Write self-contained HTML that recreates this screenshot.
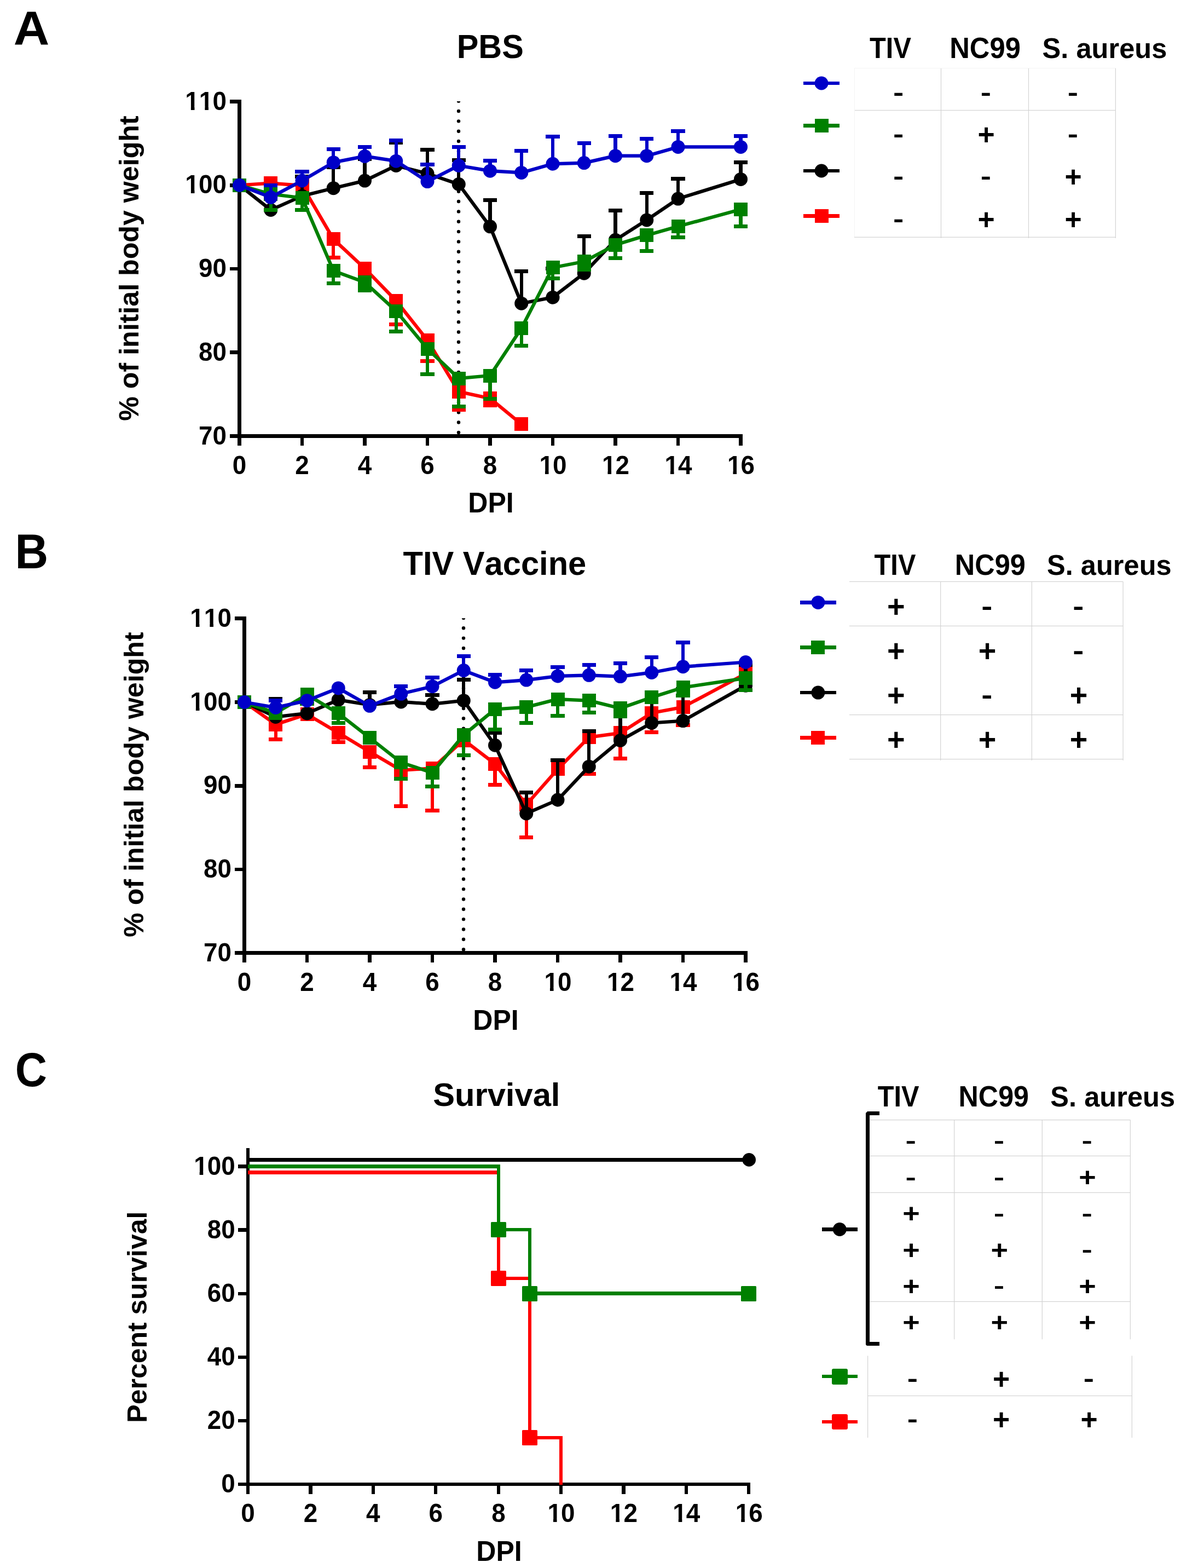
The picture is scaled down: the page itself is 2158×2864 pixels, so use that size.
<!DOCTYPE html>
<html lang="en">
<head>
<meta charset="utf-8">
<title>Body weight and survival</title>
<style>
html,body{margin:0;padding:0;background:#fff;}
body{width:2158px;height:2864px;overflow:hidden;}
svg{display:block;}
text{font-family:"Liberation Sans",Arial,Helvetica,sans-serif;font-kerning:none;font-variant-ligatures:none;}
</style>
</head>
<body>
<svg width="2158" height="2864" viewBox="0 0 2158 2864" font-family="'Liberation Sans', Arial, sans-serif" fill="#000">
<rect width="2158" height="2864" fill="#fff"/>
<text transform="translate(24.8 80.9) scale(1.089 1.055)" font-size="83.33" text-anchor="start" font-weight="bold">A</text>
<text transform="translate(27.5 1037.9) scale(1.008 1.064)" font-size="83.33" text-anchor="start" font-weight="bold">B</text>
<text transform="translate(27.7 1984.1) scale(0.967 1.0525)" font-size="83.33" text-anchor="start" font-weight="bold">C</text>
<clipPath id="clip796"><rect x="818.25" y="185" width="40" height="611"/></clipPath>
<g clip-path="url(#clip796)"><circle cx="838" cy="184.66" r="3.2"/><circle cx="838" cy="203" r="3.2"/><circle cx="838" cy="221.34" r="3.2"/><circle cx="838" cy="239.68" r="3.2"/><circle cx="838" cy="258.02" r="3.2"/><circle cx="838" cy="276.36" r="3.2"/><circle cx="838" cy="294.7" r="3.2"/><circle cx="838" cy="313.04" r="3.2"/><circle cx="838" cy="331.38" r="3.2"/><circle cx="838" cy="349.72" r="3.2"/><circle cx="838" cy="368.06" r="3.2"/><circle cx="838" cy="386.4" r="3.2"/><circle cx="838" cy="404.74" r="3.2"/><circle cx="838" cy="423.08" r="3.2"/><circle cx="838" cy="441.42" r="3.2"/><circle cx="838" cy="459.76" r="3.2"/><circle cx="838" cy="478.1" r="3.2"/><circle cx="838" cy="496.44" r="3.2"/><circle cx="838" cy="514.78" r="3.2"/><circle cx="838" cy="533.12" r="3.2"/><circle cx="838" cy="551.46" r="3.2"/><circle cx="838" cy="569.8" r="3.2"/><circle cx="838" cy="588.14" r="3.2"/><circle cx="838" cy="606.48" r="3.2"/><circle cx="838" cy="624.82" r="3.2"/><circle cx="838" cy="643.16" r="3.2"/><circle cx="838" cy="661.5" r="3.2"/><circle cx="838" cy="679.84" r="3.2"/><circle cx="838" cy="698.18" r="3.2"/><circle cx="838" cy="716.52" r="3.2"/><circle cx="838" cy="734.86" r="3.2"/><circle cx="838" cy="753.2" r="3.2"/><circle cx="838" cy="771.54" r="3.2"/><circle cx="838" cy="789.88" r="3.2"/></g>
<rect x="434" y="182" width="7" height="618" fill="#000000" shape-rendering="crispEdges"/>
<rect x="434" y="793" width="923" height="7" fill="#000000" shape-rendering="crispEdges"/>
<rect x="420" y="793" width="14" height="7" fill="#000000"/>
<text transform="translate(0 811.7) scale(1 1.04)" x="362.92 388.41" font-size="45.83" font-weight="bold">70</text>
<rect x="420" y="640" width="14" height="7" fill="#000000"/>
<text transform="translate(0 658.95) scale(1 1.04)" x="362.92 388.41" font-size="45.83" font-weight="bold">80</text>
<rect x="420" y="488" width="14" height="6" fill="#000000"/>
<text transform="translate(0 506.2) scale(1 1.04)" x="362.92 388.41" font-size="45.83" font-weight="bold">90</text>
<rect x="420" y="335" width="14" height="7" fill="#000000"/>
<clipPath id="ft1"><path d="M0 0H2158V2864H0ZM339.72 347.99H348.88V355.45H339.72ZM355.47 347.99H364.05V355.45H355.47Z" clip-rule="evenodd"/></clipPath>
<g clip-path="url(#ft1)"><text transform="translate(0 353.45) scale(1 1.04)" x="338.33 362.92 388.41" font-size="45.83" font-weight="bold">100</text></g>
<rect x="420" y="182" width="14" height="7" fill="#000000"/>
<clipPath id="ft2"><path d="M0 0H2158V2864H0ZM339.72 195.24H348.88V202.7H339.72ZM355.47 195.24H364.05V202.7H355.47ZM365.21 195.24H374.37V202.7H365.21ZM380.96 195.24H389.54V202.7H380.96Z" clip-rule="evenodd"/></clipPath>
<g clip-path="url(#ft2)"><text transform="translate(0 200.7) scale(1 1.04)" x="338.33 363.82 388.41" font-size="45.83" font-weight="bold">110</text></g>
<rect x="434" y="800" width="7" height="14" fill="#000000"/>
<text transform="translate(0 865.5) scale(1 1.04)" x="424.76" font-size="45.83" font-weight="bold">0</text>
<rect x="549" y="800" width="6" height="14" fill="#000000"/>
<text transform="translate(0 865.5) scale(1 1.04)" x="539.26" font-size="45.83" font-weight="bold">2</text>
<rect x="663" y="800" width="7" height="14" fill="#000000"/>
<text transform="translate(0 865.5) scale(1 1.04)" x="653.76" font-size="45.83" font-weight="bold">4</text>
<rect x="778" y="800" width="6" height="14" fill="#000000"/>
<text transform="translate(0 865.5) scale(1 1.04)" x="768.26" font-size="45.83" font-weight="bold">6</text>
<rect x="892" y="800" width="7" height="14" fill="#000000"/>
<text transform="translate(0 865.5) scale(1 1.04)" x="882.76" font-size="45.83" font-weight="bold">8</text>
<rect x="1007" y="800" width="6" height="14" fill="#000000"/>
<clipPath id="ft3"><path d="M0 0H2158V2864H0ZM986.8 860.04H995.96V867.5H986.8ZM1002.55 860.04H1011.12V867.5H1002.55Z" clip-rule="evenodd"/></clipPath>
<g clip-path="url(#ft3)"><text transform="translate(0 865.5) scale(1 1.04)" x="985.41 1010" font-size="45.83" font-weight="bold">10</text></g>
<rect x="1121" y="800" width="7" height="14" fill="#000000"/>
<clipPath id="ft4"><path d="M0 0H2158V2864H0ZM1101.3 860.04H1110.46V867.5H1101.3ZM1117.05 860.04H1125.62V867.5H1117.05Z" clip-rule="evenodd"/></clipPath>
<g clip-path="url(#ft4)"><text transform="translate(0 865.5) scale(1 1.04)" x="1099.91 1124.5" font-size="45.83" font-weight="bold">12</text></g>
<rect x="1236" y="800" width="6" height="14" fill="#000000"/>
<clipPath id="ft5"><path d="M0 0H2158V2864H0ZM1215.8 860.04H1224.96V867.5H1215.8ZM1231.55 860.04H1240.12V867.5H1231.55Z" clip-rule="evenodd"/></clipPath>
<g clip-path="url(#ft5)"><text transform="translate(0 865.5) scale(1 1.04)" x="1214.41 1239" font-size="45.83" font-weight="bold">14</text></g>
<rect x="1350" y="800" width="7" height="14" fill="#000000"/>
<clipPath id="ft6"><path d="M0 0H2158V2864H0ZM1330.3 860.04H1339.46V867.5H1330.3ZM1346.05 860.04H1354.62V867.5H1346.05Z" clip-rule="evenodd"/></clipPath>
<g clip-path="url(#ft6)"><text transform="translate(0 865.5) scale(1 1.04)" x="1328.91 1353.5" font-size="45.83" font-weight="bold">16</text></g>
<rect x="606" y="437" width="6" height="33" fill="#ff0000"/>
<rect x="597" y="467" width="25" height="7" fill="#ff0000"/>
<rect x="721" y="549" width="6" height="44" fill="#ff0000"/>
<rect x="711" y="589" width="25" height="7" fill="#ff0000"/>
<rect x="778" y="621" width="6" height="38" fill="#ff0000"/>
<rect x="768" y="656" width="26" height="7" fill="#ff0000"/>
<rect x="835" y="715" width="6" height="34" fill="#ff0000"/>
<rect x="826" y="745" width="25" height="7" fill="#ff0000"/>
<rect x="892" y="728" width="7" height="12" fill="#ff0000"/>
<rect x="883" y="737" width="25" height="7" fill="#ff0000"/>
<polyline points="437.5,338.25 494.75,334.6 552,338.9 609.25,436.89 666.5,490.34 723.75,549.24 781,621.48 838.25,715.42 895.5,727.7 952.75,774.7" fill="none" stroke="#ff0000" stroke-width="6.25" stroke-linejoin="round" stroke-linecap="butt"/>
<rect x="425" y="326" width="25" height="25" fill="#ff0000"/>
<rect x="482" y="322" width="25" height="25" fill="#ff0000"/>
<rect x="540" y="326" width="25" height="25" fill="#ff0000"/>
<rect x="597" y="424" width="25" height="25" fill="#ff0000"/>
<rect x="654" y="478" width="25" height="25" fill="#ff0000"/>
<rect x="711" y="537" width="25" height="25" fill="#ff0000"/>
<rect x="769" y="609" width="25" height="25" fill="#ff0000"/>
<rect x="826" y="703" width="25" height="25" fill="#ff0000"/>
<rect x="883" y="715" width="25" height="25" fill="#ff0000"/>
<rect x="940" y="762" width="25" height="25" fill="#ff0000"/>
<rect x="549" y="322" width="6" height="36" fill="#000000"/>
<rect x="539" y="319" width="26" height="7" fill="#000000"/>
<rect x="606" y="305" width="6" height="39" fill="#000000"/>
<rect x="597" y="302" width="25" height="7" fill="#000000"/>
<rect x="663" y="291" width="7" height="39" fill="#000000"/>
<rect x="654" y="287" width="25" height="7" fill="#000000"/>
<rect x="721" y="261" width="6" height="41" fill="#000000"/>
<rect x="711" y="257" width="25" height="7" fill="#000000"/>
<rect x="778" y="273" width="6" height="44" fill="#000000"/>
<rect x="768" y="270" width="26" height="7" fill="#000000"/>
<rect x="835" y="293" width="6" height="43" fill="#000000"/>
<rect x="826" y="289" width="25" height="7" fill="#000000"/>
<rect x="892" y="366" width="7" height="48" fill="#000000"/>
<rect x="883" y="362" width="25" height="7" fill="#000000"/>
<rect x="950" y="495" width="6" height="59" fill="#000000"/>
<rect x="940" y="492" width="25" height="7" fill="#000000"/>
<rect x="1007" y="490" width="6" height="53" fill="#000000"/>
<rect x="997" y="487" width="26" height="7" fill="#000000"/>
<rect x="1064" y="431" width="6" height="68" fill="#000000"/>
<rect x="1055" y="428" width="25" height="7" fill="#000000"/>
<rect x="1121" y="384" width="7" height="54" fill="#000000"/>
<rect x="1112" y="381" width="25" height="7" fill="#000000"/>
<rect x="1179" y="353" width="6" height="49" fill="#000000"/>
<rect x="1169" y="349" width="25" height="7" fill="#000000"/>
<rect x="1236" y="327" width="6" height="36" fill="#000000"/>
<rect x="1226" y="323" width="26" height="7" fill="#000000"/>
<rect x="1350" y="297" width="7" height="30" fill="#000000"/>
<rect x="1341" y="293" width="25" height="7" fill="#000000"/>
<polyline points="437.5,338.25 494.75,383.44 552,358 609.25,343.7 666.5,330.1 723.75,302.46 781,317.1 838.25,336.47 895.5,413.8 952.75,554.2 1010,543.14 1067.25,499.2 1124.5,438.3 1181.75,401.91 1239,363.04 1353.5,327.4" fill="none" stroke="#000000" stroke-width="6.25" stroke-linejoin="round" stroke-linecap="butt"/>
<circle cx="437.5" cy="338.25" r="12.5" fill="#000000"/>
<circle cx="494.75" cy="383.44" r="12.5" fill="#000000"/>
<circle cx="552" cy="358" r="12.5" fill="#000000"/>
<circle cx="609.25" cy="343.7" r="12.5" fill="#000000"/>
<circle cx="666.5" cy="330.1" r="12.5" fill="#000000"/>
<circle cx="723.75" cy="302.46" r="12.5" fill="#000000"/>
<circle cx="781" cy="317.1" r="12.5" fill="#000000"/>
<circle cx="838.25" cy="336.47" r="12.5" fill="#000000"/>
<circle cx="895.5" cy="413.8" r="12.5" fill="#000000"/>
<circle cx="952.75" cy="554.2" r="12.5" fill="#000000"/>
<circle cx="1010" cy="543.14" r="12.5" fill="#000000"/>
<circle cx="1067.25" cy="499.2" r="12.5" fill="#000000"/>
<circle cx="1124.5" cy="438.3" r="12.5" fill="#000000"/>
<circle cx="1181.75" cy="401.91" r="12.5" fill="#000000"/>
<circle cx="1239" cy="363.04" r="12.5" fill="#000000"/>
<circle cx="1353.5" cy="327.4" r="12.5" fill="#000000"/>
<rect x="492" y="354" width="6" height="30" fill="#008000"/>
<rect x="482" y="380" width="25" height="7" fill="#008000"/>
<rect x="549" y="362" width="6" height="22" fill="#008000"/>
<rect x="539" y="380" width="26" height="7" fill="#008000"/>
<rect x="606" y="495" width="6" height="23" fill="#008000"/>
<rect x="597" y="514" width="25" height="7" fill="#008000"/>
<rect x="663" y="516" width="7" height="14" fill="#008000"/>
<rect x="654" y="527" width="25" height="7" fill="#008000"/>
<rect x="721" y="568" width="6" height="38" fill="#008000"/>
<rect x="711" y="602" width="25" height="7" fill="#008000"/>
<rect x="778" y="637" width="6" height="47" fill="#008000"/>
<rect x="768" y="680" width="26" height="7" fill="#008000"/>
<rect x="835" y="691" width="6" height="52" fill="#008000"/>
<rect x="826" y="739" width="25" height="7" fill="#008000"/>
<rect x="892" y="686" width="7" height="43" fill="#008000"/>
<rect x="883" y="725" width="25" height="7" fill="#008000"/>
<rect x="950" y="600" width="6" height="31" fill="#008000"/>
<rect x="940" y="628" width="25" height="7" fill="#008000"/>
<rect x="1007" y="489" width="6" height="19" fill="#008000"/>
<rect x="997" y="505" width="26" height="7" fill="#008000"/>
<rect x="1064" y="478" width="6" height="14" fill="#008000"/>
<rect x="1055" y="489" width="25" height="7" fill="#008000"/>
<rect x="1121" y="447" width="7" height="25" fill="#008000"/>
<rect x="1112" y="468" width="25" height="7" fill="#008000"/>
<rect x="1179" y="430" width="6" height="29" fill="#008000"/>
<rect x="1169" y="455" width="25" height="7" fill="#008000"/>
<rect x="1236" y="414" width="6" height="20" fill="#008000"/>
<rect x="1226" y="430" width="26" height="7" fill="#008000"/>
<rect x="1350" y="382" width="7" height="31" fill="#008000"/>
<rect x="1341" y="410" width="25" height="7" fill="#008000"/>
<polyline points="437.5,338.25 494.75,354.4 552,361.5 609.25,494.6 666.5,515.6 723.75,568.03 781,637.02 838.25,691.12 895.5,686 952.75,599.77 1010,488.72 1067.25,477.7 1124.5,447.3 1181.75,429.77 1239,413.57 1353.5,382.47" fill="none" stroke="#008000" stroke-width="6.25" stroke-linejoin="round" stroke-linecap="butt"/>
<rect x="425" y="326" width="25" height="25" fill="#008000"/>
<rect x="482" y="342" width="25" height="25" fill="#008000"/>
<rect x="540" y="349" width="25" height="25" fill="#008000"/>
<rect x="597" y="482" width="25" height="25" fill="#008000"/>
<rect x="654" y="503" width="25" height="25" fill="#008000"/>
<rect x="711" y="556" width="25" height="25" fill="#008000"/>
<rect x="769" y="625" width="25" height="25" fill="#008000"/>
<rect x="826" y="679" width="25" height="25" fill="#008000"/>
<rect x="883" y="674" width="25" height="25" fill="#008000"/>
<rect x="940" y="587" width="25" height="25" fill="#008000"/>
<rect x="998" y="476" width="25" height="25" fill="#008000"/>
<rect x="1055" y="465" width="25" height="25" fill="#008000"/>
<rect x="1112" y="435" width="25" height="25" fill="#008000"/>
<rect x="1169" y="417" width="25" height="25" fill="#008000"/>
<rect x="1227" y="401" width="25" height="25" fill="#008000"/>
<rect x="1341" y="370" width="25" height="25" fill="#008000"/>
<rect x="492" y="339" width="6" height="21" fill="#0000c8"/>
<rect x="482" y="335" width="25" height="7" fill="#0000c8"/>
<rect x="549" y="313" width="6" height="17" fill="#0000c8"/>
<rect x="539" y="310" width="26" height="7" fill="#0000c8"/>
<rect x="606" y="272" width="6" height="25" fill="#0000c8"/>
<rect x="597" y="269" width="25" height="7" fill="#0000c8"/>
<rect x="663" y="268" width="7" height="17" fill="#0000c8"/>
<rect x="654" y="265" width="25" height="7" fill="#0000c8"/>
<rect x="721" y="257" width="6" height="37" fill="#0000c8"/>
<rect x="711" y="253" width="25" height="7" fill="#0000c8"/>
<rect x="778" y="300" width="6" height="32" fill="#0000c8"/>
<rect x="768" y="297" width="26" height="7" fill="#0000c8"/>
<rect x="835" y="268" width="6" height="34" fill="#0000c8"/>
<rect x="826" y="265" width="25" height="7" fill="#0000c8"/>
<rect x="892" y="294" width="7" height="18" fill="#0000c8"/>
<rect x="883" y="290" width="25" height="7" fill="#0000c8"/>
<rect x="950" y="276" width="6" height="39" fill="#0000c8"/>
<rect x="940" y="272" width="25" height="7" fill="#0000c8"/>
<rect x="1007" y="250" width="6" height="49" fill="#0000c8"/>
<rect x="997" y="246" width="26" height="7" fill="#0000c8"/>
<rect x="1064" y="261" width="6" height="37" fill="#0000c8"/>
<rect x="1055" y="258" width="25" height="7" fill="#0000c8"/>
<rect x="1121" y="248" width="7" height="37" fill="#0000c8"/>
<rect x="1112" y="245" width="25" height="7" fill="#0000c8"/>
<rect x="1179" y="254" width="6" height="31" fill="#0000c8"/>
<rect x="1169" y="250" width="25" height="7" fill="#0000c8"/>
<rect x="1236" y="240" width="6" height="28" fill="#0000c8"/>
<rect x="1226" y="236" width="26" height="7" fill="#0000c8"/>
<rect x="1350" y="249" width="7" height="19" fill="#0000c8"/>
<rect x="1341" y="245" width="25" height="7" fill="#0000c8"/>
<polyline points="437.5,338.25 494.75,360.4 552,329.99 609.25,296.63 666.5,285.4 723.75,294.2 781,331.6 838.25,302.46 895.5,312.18 952.75,315.42 1010,299.22 1067.25,297.6 1124.5,284.64 1181.75,284.64 1239,268.45 1353.5,268.45" fill="none" stroke="#0000c8" stroke-width="6.25" stroke-linejoin="round" stroke-linecap="butt"/>
<circle cx="437.5" cy="338.25" r="12.5" fill="#0000c8"/>
<circle cx="494.75" cy="360.4" r="12.5" fill="#0000c8"/>
<circle cx="552" cy="329.99" r="12.5" fill="#0000c8"/>
<circle cx="609.25" cy="296.63" r="12.5" fill="#0000c8"/>
<circle cx="666.5" cy="285.4" r="12.5" fill="#0000c8"/>
<circle cx="723.75" cy="294.2" r="12.5" fill="#0000c8"/>
<circle cx="781" cy="331.6" r="12.5" fill="#0000c8"/>
<circle cx="838.25" cy="302.46" r="12.5" fill="#0000c8"/>
<circle cx="895.5" cy="312.18" r="12.5" fill="#0000c8"/>
<circle cx="952.75" cy="315.42" r="12.5" fill="#0000c8"/>
<circle cx="1010" cy="299.22" r="12.5" fill="#0000c8"/>
<circle cx="1067.25" cy="297.6" r="12.5" fill="#0000c8"/>
<circle cx="1124.5" cy="284.64" r="12.5" fill="#0000c8"/>
<circle cx="1181.75" cy="284.64" r="12.5" fill="#0000c8"/>
<circle cx="1239" cy="268.45" r="12.5" fill="#0000c8"/>
<circle cx="1353.5" cy="268.45" r="12.5" fill="#0000c8"/>
<text transform="translate(895.75 105.5) scale(1 1.04)" font-size="59.4" text-anchor="middle" font-weight="bold">PBS</text>
<text transform="translate(897 935.8) scale(1 1.04)" font-size="50" text-anchor="middle" font-weight="bold">DPI</text>
<text transform="translate(253 490) rotate(-90) scale(1.0035 1)" font-size="50" text-anchor="middle" font-weight="bold">% of initial body weight</text>
<clipPath id="clip1740"><rect x="827.25" y="1129.25" width="40" height="611"/></clipPath>
<g clip-path="url(#clip1740)"><circle cx="847" cy="1128.91" r="3.2"/><circle cx="847" cy="1147.25" r="3.2"/><circle cx="847" cy="1165.59" r="3.2"/><circle cx="847" cy="1183.93" r="3.2"/><circle cx="847" cy="1202.27" r="3.2"/><circle cx="847" cy="1220.61" r="3.2"/><circle cx="847" cy="1238.95" r="3.2"/><circle cx="847" cy="1257.29" r="3.2"/><circle cx="847" cy="1275.63" r="3.2"/><circle cx="847" cy="1293.97" r="3.2"/><circle cx="847" cy="1312.31" r="3.2"/><circle cx="847" cy="1330.65" r="3.2"/><circle cx="847" cy="1348.99" r="3.2"/><circle cx="847" cy="1367.33" r="3.2"/><circle cx="847" cy="1385.67" r="3.2"/><circle cx="847" cy="1404.01" r="3.2"/><circle cx="847" cy="1422.35" r="3.2"/><circle cx="847" cy="1440.69" r="3.2"/><circle cx="847" cy="1459.03" r="3.2"/><circle cx="847" cy="1477.37" r="3.2"/><circle cx="847" cy="1495.71" r="3.2"/><circle cx="847" cy="1514.05" r="3.2"/><circle cx="847" cy="1532.39" r="3.2"/><circle cx="847" cy="1550.73" r="3.2"/><circle cx="847" cy="1569.07" r="3.2"/><circle cx="847" cy="1587.41" r="3.2"/><circle cx="847" cy="1605.75" r="3.2"/><circle cx="847" cy="1624.09" r="3.2"/><circle cx="847" cy="1642.43" r="3.2"/><circle cx="847" cy="1660.77" r="3.2"/><circle cx="847" cy="1679.11" r="3.2"/><circle cx="847" cy="1697.45" r="3.2"/><circle cx="847" cy="1715.79" r="3.2"/><circle cx="847" cy="1734.13" r="3.2"/></g>
<rect x="443" y="1126.25" width="7" height="618" fill="#000000" shape-rendering="crispEdges"/>
<rect x="443" y="1737.25" width="923" height="7" fill="#000000" shape-rendering="crispEdges"/>
<rect x="429" y="1737" width="14" height="7" fill="#000000"/>
<text transform="translate(0 1755.95) scale(1 1.04)" x="371.92 397.41" font-size="45.83" font-weight="bold">70</text>
<rect x="429" y="1585" width="14" height="6" fill="#000000"/>
<text transform="translate(0 1603.2) scale(1 1.04)" x="371.92 397.41" font-size="45.83" font-weight="bold">80</text>
<rect x="429" y="1432" width="14" height="7" fill="#000000"/>
<text transform="translate(0 1450.45) scale(1 1.04)" x="371.92 397.41" font-size="45.83" font-weight="bold">90</text>
<rect x="429" y="1279" width="14" height="7" fill="#000000"/>
<clipPath id="ft7"><path d="M0 0H2158V2864H0ZM348.72 1292.24H357.88V1299.7H348.72ZM364.47 1292.24H373.05V1299.7H364.47Z" clip-rule="evenodd"/></clipPath>
<g clip-path="url(#ft7)"><text transform="translate(0 1297.7) scale(1 1.04)" x="347.33 371.92 397.41" font-size="45.83" font-weight="bold">100</text></g>
<rect x="429" y="1126" width="14" height="7" fill="#000000"/>
<clipPath id="ft8"><path d="M0 0H2158V2864H0ZM348.72 1139.49H357.88V1146.95H348.72ZM364.47 1139.49H373.05V1146.95H364.47ZM374.21 1139.49H383.37V1146.95H374.21ZM389.96 1139.49H398.54V1146.95H389.96Z" clip-rule="evenodd"/></clipPath>
<g clip-path="url(#ft8)"><text transform="translate(0 1144.95) scale(1 1.04)" x="347.33 372.82 397.41" font-size="45.83" font-weight="bold">110</text></g>
<rect x="443" y="1744" width="7" height="14" fill="#000000"/>
<text transform="translate(0 1809.75) scale(1 1.04)" x="433.76" font-size="45.83" font-weight="bold">0</text>
<rect x="558" y="1744" width="6" height="14" fill="#000000"/>
<text transform="translate(0 1809.75) scale(1 1.04)" x="548.26" font-size="45.83" font-weight="bold">2</text>
<rect x="672" y="1744" width="7" height="14" fill="#000000"/>
<text transform="translate(0 1809.75) scale(1 1.04)" x="662.76" font-size="45.83" font-weight="bold">4</text>
<rect x="787" y="1744" width="6" height="14" fill="#000000"/>
<text transform="translate(0 1809.75) scale(1 1.04)" x="777.26" font-size="45.83" font-weight="bold">6</text>
<rect x="901" y="1744" width="7" height="14" fill="#000000"/>
<text transform="translate(0 1809.75) scale(1 1.04)" x="891.76" font-size="45.83" font-weight="bold">8</text>
<rect x="1016" y="1744" width="6" height="14" fill="#000000"/>
<clipPath id="ft9"><path d="M0 0H2158V2864H0ZM995.8 1804.29H1004.96V1811.75H995.8ZM1011.55 1804.29H1020.12V1811.75H1011.55Z" clip-rule="evenodd"/></clipPath>
<g clip-path="url(#ft9)"><text transform="translate(0 1809.75) scale(1 1.04)" x="994.41 1019" font-size="45.83" font-weight="bold">10</text></g>
<rect x="1130" y="1744" width="7" height="14" fill="#000000"/>
<clipPath id="ft10"><path d="M0 0H2158V2864H0ZM1110.3 1804.29H1119.46V1811.75H1110.3ZM1126.05 1804.29H1134.62V1811.75H1126.05Z" clip-rule="evenodd"/></clipPath>
<g clip-path="url(#ft10)"><text transform="translate(0 1809.75) scale(1 1.04)" x="1108.91 1133.5" font-size="45.83" font-weight="bold">12</text></g>
<rect x="1245" y="1744" width="6" height="14" fill="#000000"/>
<clipPath id="ft11"><path d="M0 0H2158V2864H0ZM1224.8 1804.29H1233.96V1811.75H1224.8ZM1240.55 1804.29H1249.12V1811.75H1240.55Z" clip-rule="evenodd"/></clipPath>
<g clip-path="url(#ft11)"><text transform="translate(0 1809.75) scale(1 1.04)" x="1223.41 1248" font-size="45.83" font-weight="bold">14</text></g>
<rect x="1359" y="1744" width="7" height="14" fill="#000000"/>
<clipPath id="ft12"><path d="M0 0H2158V2864H0ZM1339.3 1804.29H1348.46V1811.75H1339.3ZM1355.05 1804.29H1363.62V1811.75H1355.05Z" clip-rule="evenodd"/></clipPath>
<g clip-path="url(#ft12)"><text transform="translate(0 1809.75) scale(1 1.04)" x="1337.91 1362.5" font-size="45.83" font-weight="bold">16</text></g>
<rect x="501" y="1323" width="6" height="27" fill="#ff0000"/>
<rect x="491" y="1347" width="25" height="7" fill="#ff0000"/>
<rect x="615" y="1339" width="6" height="17" fill="#ff0000"/>
<rect x="606" y="1352" width="25" height="7" fill="#ff0000"/>
<rect x="672" y="1373" width="7" height="29" fill="#ff0000"/>
<rect x="663" y="1398" width="25" height="7" fill="#ff0000"/>
<rect x="730" y="1407" width="6" height="65" fill="#ff0000"/>
<rect x="720" y="1469" width="25" height="7" fill="#ff0000"/>
<rect x="787" y="1403" width="6" height="77" fill="#ff0000"/>
<rect x="777" y="1477" width="26" height="7" fill="#ff0000"/>
<rect x="844" y="1352" width="6" height="9" fill="#ff0000"/>
<rect x="835" y="1358" width="25" height="7" fill="#ff0000"/>
<rect x="901" y="1395" width="7" height="38" fill="#ff0000"/>
<rect x="892" y="1430" width="25" height="7" fill="#ff0000"/>
<rect x="959" y="1470" width="6" height="60" fill="#ff0000"/>
<rect x="949" y="1526" width="25" height="7" fill="#ff0000"/>
<rect x="1073" y="1347" width="6" height="66" fill="#ff0000"/>
<rect x="1064" y="1410" width="25" height="7" fill="#ff0000"/>
<rect x="1130" y="1339" width="7" height="47" fill="#ff0000"/>
<rect x="1121" y="1382" width="25" height="7" fill="#ff0000"/>
<rect x="1188" y="1302" width="6" height="36" fill="#ff0000"/>
<rect x="1178" y="1334" width="25" height="7" fill="#ff0000"/>
<rect x="1245" y="1292" width="6" height="32" fill="#ff0000"/>
<rect x="1235" y="1321" width="26" height="7" fill="#ff0000"/>
<polyline points="446.5,1282.5 503.75,1323.3 561,1304.57 618.25,1338.5 675.5,1373.2 732.75,1406.8 790,1403.37 847.25,1351.54 904.5,1395.3 961.75,1469.78 1019,1404.99 1076.25,1346.68 1133.5,1338.8 1190.75,1302.3 1248,1291.61 1362.5,1230.5" fill="none" stroke="#ff0000" stroke-width="6.25" stroke-linejoin="round" stroke-linecap="butt"/>
<rect x="434" y="1270" width="25" height="25" fill="#ff0000"/>
<rect x="491" y="1311" width="25" height="25" fill="#ff0000"/>
<rect x="549" y="1292" width="25" height="25" fill="#ff0000"/>
<rect x="606" y="1326" width="25" height="25" fill="#ff0000"/>
<rect x="663" y="1361" width="25" height="25" fill="#ff0000"/>
<rect x="720" y="1394" width="25" height="25" fill="#ff0000"/>
<rect x="778" y="1391" width="25" height="25" fill="#ff0000"/>
<rect x="835" y="1339" width="25" height="25" fill="#ff0000"/>
<rect x="892" y="1383" width="25" height="25" fill="#ff0000"/>
<rect x="949" y="1457" width="25" height="25" fill="#ff0000"/>
<rect x="1007" y="1392" width="25" height="25" fill="#ff0000"/>
<rect x="1064" y="1334" width="25" height="25" fill="#ff0000"/>
<rect x="1121" y="1326" width="25" height="25" fill="#ff0000"/>
<rect x="1178" y="1290" width="25" height="25" fill="#ff0000"/>
<rect x="1236" y="1279" width="25" height="25" fill="#ff0000"/>
<rect x="1350" y="1218" width="25" height="25" fill="#ff0000"/>
<rect x="501" y="1276" width="6" height="33" fill="#000000"/>
<rect x="491" y="1273" width="25" height="7" fill="#000000"/>
<rect x="672" y="1264" width="7" height="23" fill="#000000"/>
<rect x="663" y="1261" width="25" height="7" fill="#000000"/>
<rect x="787" y="1270" width="6" height="16" fill="#000000"/>
<rect x="777" y="1266" width="26" height="7" fill="#000000"/>
<rect x="844" y="1241" width="6" height="39" fill="#000000"/>
<rect x="835" y="1238" width="25" height="7" fill="#000000"/>
<rect x="901" y="1339" width="7" height="22" fill="#000000"/>
<rect x="892" y="1335" width="25" height="7" fill="#000000"/>
<rect x="959" y="1448" width="6" height="38" fill="#000000"/>
<rect x="949" y="1444" width="25" height="7" fill="#000000"/>
<rect x="1016" y="1389" width="6" height="72" fill="#000000"/>
<rect x="1006" y="1385" width="26" height="7" fill="#000000"/>
<rect x="1073" y="1335" width="6" height="65" fill="#000000"/>
<rect x="1064" y="1332" width="25" height="7" fill="#000000"/>
<rect x="1130" y="1300" width="7" height="53" fill="#000000"/>
<rect x="1121" y="1297" width="25" height="7" fill="#000000"/>
<rect x="1188" y="1275" width="6" height="46" fill="#000000"/>
<rect x="1178" y="1272" width="25" height="7" fill="#000000"/>
<rect x="1245" y="1258" width="6" height="59" fill="#000000"/>
<rect x="1235" y="1255" width="26" height="7" fill="#000000"/>
<rect x="1359" y="1215" width="7" height="37" fill="#000000"/>
<rect x="1350" y="1211" width="25" height="7" fill="#000000"/>
<polyline points="446.5,1282.5 503.75,1309.43 561,1302.95 618.25,1278.3 675.5,1287.4 732.75,1281.9 790,1285.78 847.25,1279.63 904.5,1361.26 961.75,1485.97 1019,1461.03 1076.25,1400.13 1133.5,1352.5 1190.75,1320.5 1248,1316.6 1362.5,1252.2" fill="none" stroke="#000000" stroke-width="6.25" stroke-linejoin="round" stroke-linecap="butt"/>
<circle cx="446.5" cy="1282.5" r="12.5" fill="#000000"/>
<circle cx="503.75" cy="1309.43" r="12.5" fill="#000000"/>
<circle cx="561" cy="1302.95" r="12.5" fill="#000000"/>
<circle cx="618.25" cy="1278.3" r="12.5" fill="#000000"/>
<circle cx="675.5" cy="1287.4" r="12.5" fill="#000000"/>
<circle cx="732.75" cy="1281.9" r="12.5" fill="#000000"/>
<circle cx="790" cy="1285.78" r="12.5" fill="#000000"/>
<circle cx="847.25" cy="1279.63" r="12.5" fill="#000000"/>
<circle cx="904.5" cy="1361.26" r="12.5" fill="#000000"/>
<circle cx="961.75" cy="1485.97" r="12.5" fill="#000000"/>
<circle cx="1019" cy="1461.03" r="12.5" fill="#000000"/>
<circle cx="1076.25" cy="1400.13" r="12.5" fill="#000000"/>
<circle cx="1133.5" cy="1352.5" r="12.5" fill="#000000"/>
<circle cx="1190.75" cy="1320.5" r="12.5" fill="#000000"/>
<circle cx="1248" cy="1316.6" r="12.5" fill="#000000"/>
<circle cx="1362.5" cy="1252.2" r="12.5" fill="#000000"/>
<rect x="558" y="1269" width="6" height="17" fill="#008000"/>
<rect x="548" y="1282" width="26" height="7" fill="#008000"/>
<rect x="615" y="1303" width="6" height="17" fill="#008000"/>
<rect x="606" y="1317" width="25" height="7" fill="#008000"/>
<rect x="730" y="1393" width="6" height="29" fill="#008000"/>
<rect x="720" y="1419" width="25" height="7" fill="#008000"/>
<rect x="787" y="1411" width="6" height="25" fill="#008000"/>
<rect x="777" y="1433" width="26" height="7" fill="#008000"/>
<rect x="844" y="1343" width="6" height="36" fill="#008000"/>
<rect x="835" y="1376" width="25" height="7" fill="#008000"/>
<rect x="901" y="1296" width="7" height="36" fill="#008000"/>
<rect x="892" y="1329" width="25" height="7" fill="#008000"/>
<rect x="959" y="1292" width="6" height="28" fill="#008000"/>
<rect x="949" y="1317" width="25" height="7" fill="#008000"/>
<rect x="1016" y="1277" width="6" height="31" fill="#008000"/>
<rect x="1006" y="1304" width="26" height="7" fill="#008000"/>
<rect x="1073" y="1280" width="6" height="21" fill="#008000"/>
<rect x="1064" y="1298" width="25" height="7" fill="#008000"/>
<rect x="1130" y="1294" width="7" height="14" fill="#008000"/>
<rect x="1121" y="1305" width="25" height="7" fill="#008000"/>
<rect x="1245" y="1256" width="6" height="14" fill="#008000"/>
<rect x="1235" y="1267" width="26" height="7" fill="#008000"/>
<rect x="1359" y="1239" width="7" height="21" fill="#008000"/>
<rect x="1350" y="1257" width="25" height="7" fill="#008000"/>
<polyline points="446.5,1282.5 503.75,1302.3 561,1268.7 618.25,1302.95 675.5,1347.6 732.75,1392.6 790,1411.47 847.25,1342.5 904.5,1295.5 961.75,1291.61 1019,1277.04 1076.25,1279.63 1133.5,1293.7 1190.75,1273.8 1248,1255.7 1362.5,1238.6" fill="none" stroke="#008000" stroke-width="6.25" stroke-linejoin="round" stroke-linecap="butt"/>
<rect x="434" y="1270" width="25" height="25" fill="#008000"/>
<rect x="491" y="1290" width="25" height="25" fill="#008000"/>
<rect x="549" y="1256" width="25" height="25" fill="#008000"/>
<rect x="606" y="1290" width="25" height="25" fill="#008000"/>
<rect x="663" y="1335" width="25" height="25" fill="#008000"/>
<rect x="720" y="1380" width="25" height="25" fill="#008000"/>
<rect x="778" y="1399" width="25" height="25" fill="#008000"/>
<rect x="835" y="1330" width="25" height="25" fill="#008000"/>
<rect x="892" y="1283" width="25" height="25" fill="#008000"/>
<rect x="949" y="1279" width="25" height="25" fill="#008000"/>
<rect x="1007" y="1265" width="25" height="25" fill="#008000"/>
<rect x="1064" y="1267" width="25" height="25" fill="#008000"/>
<rect x="1121" y="1281" width="25" height="25" fill="#008000"/>
<rect x="1178" y="1261" width="25" height="25" fill="#008000"/>
<rect x="1236" y="1243" width="25" height="25" fill="#008000"/>
<rect x="1350" y="1226" width="25" height="25" fill="#008000"/>
<rect x="501" y="1280" width="6" height="12" fill="#0000c8"/>
<rect x="491" y="1276" width="25" height="7" fill="#0000c8"/>
<rect x="730" y="1254" width="6" height="13" fill="#0000c8"/>
<rect x="720" y="1250" width="25" height="7" fill="#0000c8"/>
<rect x="787" y="1238" width="6" height="16" fill="#0000c8"/>
<rect x="777" y="1234" width="26" height="7" fill="#0000c8"/>
<rect x="844" y="1199" width="6" height="26" fill="#0000c8"/>
<rect x="835" y="1195" width="25" height="7" fill="#0000c8"/>
<rect x="901" y="1232" width="7" height="14" fill="#0000c8"/>
<rect x="892" y="1229" width="25" height="7" fill="#0000c8"/>
<rect x="959" y="1225" width="6" height="17" fill="#0000c8"/>
<rect x="949" y="1221" width="25" height="7" fill="#0000c8"/>
<rect x="1016" y="1219" width="6" height="16" fill="#0000c8"/>
<rect x="1006" y="1215" width="26" height="7" fill="#0000c8"/>
<rect x="1073" y="1214" width="6" height="19" fill="#0000c8"/>
<rect x="1064" y="1211" width="25" height="7" fill="#0000c8"/>
<rect x="1130" y="1212" width="7" height="24" fill="#0000c8"/>
<rect x="1121" y="1208" width="25" height="7" fill="#0000c8"/>
<rect x="1188" y="1201" width="6" height="27" fill="#0000c8"/>
<rect x="1178" y="1197" width="25" height="7" fill="#0000c8"/>
<rect x="1245" y="1173" width="6" height="45" fill="#0000c8"/>
<rect x="1235" y="1170" width="26" height="7" fill="#0000c8"/>
<polyline points="446.5,1282.5 503.75,1292.4 561,1279.63 618.25,1256.95 675.5,1289.35 732.75,1267.32 790,1253.71 847.25,1224.56 904.5,1246.26 961.75,1242.05 1019,1234.93 1076.25,1233.31 1133.5,1235.57 1190.75,1228.45 1248,1217.76 1362.5,1209.5" fill="none" stroke="#0000c8" stroke-width="6.25" stroke-linejoin="round" stroke-linecap="butt"/>
<circle cx="446.5" cy="1282.5" r="12.5" fill="#0000c8"/>
<circle cx="503.75" cy="1292.4" r="12.5" fill="#0000c8"/>
<circle cx="561" cy="1279.63" r="12.5" fill="#0000c8"/>
<circle cx="618.25" cy="1256.95" r="12.5" fill="#0000c8"/>
<circle cx="675.5" cy="1289.35" r="12.5" fill="#0000c8"/>
<circle cx="732.75" cy="1267.32" r="12.5" fill="#0000c8"/>
<circle cx="790" cy="1253.71" r="12.5" fill="#0000c8"/>
<circle cx="847.25" cy="1224.56" r="12.5" fill="#0000c8"/>
<circle cx="904.5" cy="1246.26" r="12.5" fill="#0000c8"/>
<circle cx="961.75" cy="1242.05" r="12.5" fill="#0000c8"/>
<circle cx="1019" cy="1234.93" r="12.5" fill="#0000c8"/>
<circle cx="1076.25" cy="1233.31" r="12.5" fill="#0000c8"/>
<circle cx="1133.5" cy="1235.57" r="12.5" fill="#0000c8"/>
<circle cx="1190.75" cy="1228.45" r="12.5" fill="#0000c8"/>
<circle cx="1248" cy="1217.76" r="12.5" fill="#0000c8"/>
<circle cx="1362.5" cy="1209.5" r="12.5" fill="#0000c8"/>
<text transform="translate(903.85 1049.7) scale(1 1.01)" font-size="59.65" text-anchor="middle" font-weight="bold">TIV Vaccine</text>
<text transform="translate(906 1880.7) scale(1 1.04)" font-size="50" text-anchor="middle" font-weight="bold">DPI</text>
<text transform="translate(262 1433) rotate(-90) scale(1.0035 1)" font-size="50" text-anchor="middle" font-weight="bold">% of initial body weight</text>
<rect x="450" y="2097" width="6" height="632" fill="#000000" shape-rendering="crispEdges"/>
<rect x="450" y="2708" width="921.3" height="6" fill="#000000" shape-rendering="crispEdges"/>
<rect x="435" y="2708" width="15" height="6" fill="#000000"/>
<text transform="translate(0 2726.2) scale(1 1.04)" x="404.21" font-size="45.83" font-weight="bold">0</text>
<rect x="435" y="2592" width="15" height="6" fill="#000000"/>
<text transform="translate(0 2610.1) scale(1 1.04)" x="378.72 404.21" font-size="45.83" font-weight="bold">20</text>
<rect x="435" y="2476" width="15" height="6" fill="#000000"/>
<text transform="translate(0 2494) scale(1 1.04)" x="378.72 404.21" font-size="45.83" font-weight="bold">40</text>
<rect x="435" y="2360" width="15" height="6" fill="#000000"/>
<text transform="translate(0 2377.9) scale(1 1.04)" x="378.72 404.21" font-size="45.83" font-weight="bold">60</text>
<rect x="435" y="2243" width="15" height="7" fill="#000000"/>
<text transform="translate(0 2261.8) scale(1 1.04)" x="378.72 404.21" font-size="45.83" font-weight="bold">80</text>
<rect x="435" y="2127" width="15" height="7" fill="#000000"/>
<clipPath id="ft13"><path d="M0 0H2158V2864H0ZM355.52 2140.24H364.68V2147.7H355.52ZM371.27 2140.24H379.85V2147.7H371.27Z" clip-rule="evenodd"/></clipPath>
<g clip-path="url(#ft13)"><text transform="translate(0 2145.7) scale(1 1.04)" x="354.13 378.72 404.21" font-size="45.83" font-weight="bold">100</text></g>
<rect x="450" y="2714" width="6" height="15" fill="#000000"/>
<text transform="translate(0 2780) scale(1 1.04)" x="440.26" font-size="45.83" font-weight="bold">0</text>
<rect x="564" y="2714" width="7" height="15" fill="#000000"/>
<text transform="translate(0 2780) scale(1 1.04)" x="554.66" font-size="45.83" font-weight="bold">2</text>
<rect x="679" y="2714" width="6" height="15" fill="#000000"/>
<text transform="translate(0 2780) scale(1 1.04)" x="669.06" font-size="45.83" font-weight="bold">4</text>
<rect x="793" y="2714" width="6" height="15" fill="#000000"/>
<text transform="translate(0 2780) scale(1 1.04)" x="783.46" font-size="45.83" font-weight="bold">6</text>
<rect x="908" y="2714" width="6" height="15" fill="#000000"/>
<text transform="translate(0 2780) scale(1 1.04)" x="898.26" font-size="45.83" font-weight="bold">8</text>
<rect x="1022" y="2714" width="6" height="15" fill="#000000"/>
<clipPath id="ft14"><path d="M0 0H2158V2864H0ZM1001.8 2774.54H1010.96V2782H1001.8ZM1017.55 2774.54H1026.12V2782H1017.55Z" clip-rule="evenodd"/></clipPath>
<g clip-path="url(#ft14)"><text transform="translate(0 2780) scale(1 1.04)" x="1000.41 1025" font-size="45.83" font-weight="bold">10</text></g>
<rect x="1136" y="2714" width="7" height="15" fill="#000000"/>
<clipPath id="ft15"><path d="M0 0H2158V2864H0ZM1116.2 2774.54H1125.36V2782H1116.2ZM1131.95 2774.54H1140.52V2782H1131.95Z" clip-rule="evenodd"/></clipPath>
<g clip-path="url(#ft15)"><text transform="translate(0 2780) scale(1 1.04)" x="1114.81 1139.4" font-size="45.83" font-weight="bold">12</text></g>
<rect x="1251" y="2714" width="6" height="15" fill="#000000"/>
<clipPath id="ft16"><path d="M0 0H2158V2864H0ZM1230.6 2774.54H1239.76V2782H1230.6ZM1246.35 2774.54H1254.92V2782H1246.35Z" clip-rule="evenodd"/></clipPath>
<g clip-path="url(#ft16)"><text transform="translate(0 2780) scale(1 1.04)" x="1229.21 1253.8" font-size="45.83" font-weight="bold">14</text></g>
<rect x="1365" y="2714" width="6" height="15" fill="#000000"/>
<clipPath id="ft17"><path d="M0 0H2158V2864H0ZM1345.1 2774.54H1354.26V2782H1345.1ZM1360.85 2774.54H1369.42V2782H1360.85Z" clip-rule="evenodd"/></clipPath>
<g clip-path="url(#ft17)"><text transform="translate(0 2780) scale(1 1.04)" x="1343.71 1368.3" font-size="45.83" font-weight="bold">16</text></g>
<rect x="453" y="2138" width="455" height="7" fill="#ff0000"/>
<rect x="908" y="2246" width="6" height="89" fill="#ff0000"/>
<rect x="911" y="2332" width="54" height="6" fill="#ff0000"/>
<rect x="965" y="2363" width="6" height="263" fill="#ff0000"/>
<rect x="965" y="2623" width="63" height="6" fill="#ff0000"/>
<rect x="1022" y="2623" width="6" height="89" fill="#ff0000"/>
<rect x="897" y="2321" width="28" height="28" fill="#ff0000" rx="1.5"/>
<rect x="954" y="2612" width="28" height="28" fill="#ff0000" rx="1.5"/>
<rect x="453" y="2127" width="461" height="7" fill="#008000"/>
<rect x="908" y="2127" width="6" height="119" fill="#008000"/>
<rect x="911" y="2243" width="60" height="6" fill="#008000"/>
<rect x="965" y="2243" width="6" height="120" fill="#008000"/>
<rect x="968" y="2359" width="400" height="7" fill="#008000"/>
<rect x="897" y="2232" width="28" height="28" fill="#008000" rx="1.5"/>
<rect x="954" y="2349" width="28" height="28" fill="#008000" rx="1.5"/>
<rect x="1354" y="2349" width="28" height="28" fill="#008000" rx="1.5"/>
<rect x="456" y="2115" width="912" height="7" fill="#000000"/>
<circle cx="1368.7" cy="2118.4" r="12.3" fill="#000000"/>
<text transform="translate(907.3 2020.2)" font-size="59.7" text-anchor="middle" font-weight="bold">Survival</text>
<text transform="translate(912 2851) scale(1 1.04)" font-size="50" text-anchor="middle" font-weight="bold">DPI</text>
<text transform="translate(268.4 2405.6) rotate(-90) scale(1 1.005)" font-size="50" text-anchor="middle" font-weight="bold">Percent survival</text>
<rect x="1718.9" y="124.5" width="1.2" height="310.5" fill="#d3d3d3"/>
<rect x="1878.9" y="124.5" width="1.2" height="310.5" fill="#d3d3d3"/>
<rect x="2037.8" y="124.5" width="1.2" height="310.5" fill="#d3d3d3"/>
<rect x="1561" y="200.9" width="477.4" height="1.2" fill="#d3d3d3"/>
<rect x="1561" y="124" width="477" height="1" fill="#f4f4f4"/><rect x="1561" y="124" width="1" height="310" fill="#f4f4f4"/>
<rect x="1561" y="432.7" width="477.4" height="1.2" fill="#d3d3d3"/>
<text transform="translate(1627 105.7) scale(0.975 1.06)" font-size="50" text-anchor="middle" font-weight="bold">TIV</text>
<text transform="translate(1800 105.7) scale(1.015 1.06)" font-size="50" text-anchor="middle" font-weight="bold">NC99</text>
<text transform="translate(2018.5 105.7) scale(1.012 1.02)" font-size="50" text-anchor="middle" font-weight="bold">S. aureus</text>
<rect x="1468" y="149" width="66" height="6" fill="#0000c8"/>
<circle cx="1501" cy="152" r="12.5" fill="#0000c8"/>
<rect x="1468" y="226" width="66" height="7" fill="#008000"/>
<rect x="1489" y="217" width="25" height="25" fill="#008000"/>
<rect x="1468" y="309" width="66" height="6" fill="#000000"/>
<circle cx="1501" cy="312" r="12.5" fill="#000000"/>
<rect x="1468" y="391" width="66" height="7" fill="#ff0000"/>
<rect x="1489" y="382" width="25" height="25" fill="#ff0000"/>
<text transform="translate(1641.7 183.57) scale(1.16 0.9)" font-size="50" text-anchor="middle" font-weight="bold">-</text>
<text transform="translate(1801.5 183.57) scale(1.16 0.9)" font-size="50" text-anchor="middle" font-weight="bold">-</text>
<text transform="translate(1960.4 183.57) scale(1.16 0.9)" font-size="50" text-anchor="middle" font-weight="bold">-</text>
<text transform="translate(1641.7 260.47) scale(1.16 0.9)" font-size="50" text-anchor="middle" font-weight="bold">-</text>
<text transform="translate(1802.2 264.19) scale(1.07 1.07)" font-size="50" text-anchor="middle" font-weight="bold">+</text>
<text transform="translate(1960.4 260.47) scale(1.16 0.9)" font-size="50" text-anchor="middle" font-weight="bold">-</text>
<text transform="translate(1641.7 337.47) scale(1.16 0.9)" font-size="50" text-anchor="middle" font-weight="bold">-</text>
<text transform="translate(1801.5 337.47) scale(1.16 0.9)" font-size="50" text-anchor="middle" font-weight="bold">-</text>
<text transform="translate(1961.1 341.19) scale(1.07 1.07)" font-size="50" text-anchor="middle" font-weight="bold">+</text>
<text transform="translate(1641.7 415.47) scale(1.16 0.9)" font-size="50" text-anchor="middle" font-weight="bold">-</text>
<text transform="translate(1802.2 419.19) scale(1.07 1.07)" font-size="50" text-anchor="middle" font-weight="bold">+</text>
<text transform="translate(1961.1 419.19) scale(1.07 1.07)" font-size="50" text-anchor="middle" font-weight="bold">+</text>
<rect x="1718.1" y="1062.4" width="1.2" height="326.6" fill="#d3d3d3"/>
<rect x="1884.8" y="1062.4" width="1.2" height="326.6" fill="#d3d3d3"/>
<rect x="2051.5" y="1062.4" width="1.2" height="326.6" fill="#d3d3d3"/>
<rect x="1552" y="1061.8" width="500.1" height="1.2" fill="#d3d3d3"/>
<rect x="1552" y="1142.8" width="500.1" height="1.2" fill="#d3d3d3"/>
<rect x="1552" y="1305" width="500.1" height="1.2" fill="#d3d3d3"/>
<rect x="1552" y="1386" width="500.1" height="1.2" fill="#d3d3d3"/>
<text transform="translate(1635.5 1049.5) scale(0.975 1.06)" font-size="50" text-anchor="middle" font-weight="bold">TIV</text>
<text transform="translate(1809.3 1049.5) scale(1.01 1.06)" font-size="50" text-anchor="middle" font-weight="bold">NC99</text>
<text transform="translate(2026.8 1049.5) scale(1.012 1.02)" font-size="50" text-anchor="middle" font-weight="bold">S. aureus</text>
<rect x="1462" y="1097" width="66" height="7" fill="#0000c8"/>
<circle cx="1494.9" cy="1100.4" r="12.5" fill="#0000c8"/>
<rect x="1462" y="1179" width="66" height="7" fill="#008000"/>
<rect x="1482" y="1170" width="25" height="25" fill="#008000"/>
<rect x="1462" y="1262" width="66" height="6" fill="#000000"/>
<circle cx="1494.9" cy="1265.1" r="12.5" fill="#000000"/>
<rect x="1462" y="1344" width="66" height="7" fill="#ff0000"/>
<rect x="1482" y="1335" width="25" height="25" fill="#ff0000"/>
<text transform="translate(1637.2 1127.94) scale(1.1181 1.1342)" font-size="50" text-anchor="middle" font-weight="bold">+</text>
<text transform="translate(1803.4 1123.97) scale(1.2122 0.954)" font-size="50" text-anchor="middle" font-weight="bold">-</text>
<text transform="translate(1970.4 1123.97) scale(1.2122 0.954)" font-size="50" text-anchor="middle" font-weight="bold">-</text>
<text transform="translate(1637.2 1208.94) scale(1.1181 1.1342)" font-size="50" text-anchor="middle" font-weight="bold">+</text>
<text transform="translate(1804.1 1208.94) scale(1.1181 1.1342)" font-size="50" text-anchor="middle" font-weight="bold">+</text>
<text transform="translate(1970.4 1204.97) scale(1.2122 0.954)" font-size="50" text-anchor="middle" font-weight="bold">-</text>
<text transform="translate(1637.2 1289.94) scale(1.1181 1.1342)" font-size="50" text-anchor="middle" font-weight="bold">+</text>
<text transform="translate(1803.4 1285.97) scale(1.2122 0.954)" font-size="50" text-anchor="middle" font-weight="bold">-</text>
<text transform="translate(1971.1 1289.94) scale(1.1181 1.1342)" font-size="50" text-anchor="middle" font-weight="bold">+</text>
<text transform="translate(1637.2 1370.54) scale(1.1181 1.1342)" font-size="50" text-anchor="middle" font-weight="bold">+</text>
<text transform="translate(1804.1 1370.54) scale(1.1181 1.1342)" font-size="50" text-anchor="middle" font-weight="bold">+</text>
<text transform="translate(1971.1 1370.54) scale(1.1181 1.1342)" font-size="50" text-anchor="middle" font-weight="bold">+</text>
<rect x="1743.1" y="2045.6" width="1.2" height="400.7" fill="#d3d3d3"/>
<rect x="1903.7" y="2045.6" width="1.2" height="400.7" fill="#d3d3d3"/>
<rect x="2064.8" y="2045.6" width="1.2" height="400.7" fill="#d3d3d3"/>
<rect x="1589.5" y="2045" width="475.9" height="1.2" fill="#d3d3d3"/>
<rect x="1589.5" y="2110.8" width="475.9" height="1.2" fill="#d3d3d3"/>
<rect x="1589.5" y="2177.8" width="475.9" height="1.2" fill="#d3d3d3"/>
<rect x="1589.5" y="2376.8" width="475.9" height="1.2" fill="#d3d3d3"/>
<polygon points="1585,2030 1607,2030 1607,2037 1589,2037 1589,2451 1607,2451 1607,2458 1584,2458 1582,2456 1582,2033" fill="#000"/>
<text transform="translate(1641.6 2020.6) scale(0.975 1.06)" font-size="50" text-anchor="middle" font-weight="bold">TIV</text>
<text transform="translate(1815.8 2020.6) scale(1.005 1.06)" font-size="50" text-anchor="middle" font-weight="bold">NC99</text>
<text transform="translate(2033.2 2020.6) scale(1.012 1.02)" font-size="50" text-anchor="middle" font-weight="bold">S. aureus</text>
<rect x="1502" y="2242" width="65" height="7" fill="#000000"/>
<circle cx="1534.3" cy="2245.5" r="12.5" fill="#000000"/>
<text transform="translate(1664.2 2096.98) scale(1.1716 0.801)" font-size="50" text-anchor="middle" font-weight="bold">-</text>
<text transform="translate(1825.5 2096.98) scale(1.1716 0.801)" font-size="50" text-anchor="middle" font-weight="bold">-</text>
<text transform="translate(1986.2 2096.98) scale(1.1716 0.801)" font-size="50" text-anchor="middle" font-weight="bold">-</text>
<text transform="translate(1664.2 2163.58) scale(1.1716 0.801)" font-size="50" text-anchor="middle" font-weight="bold">-</text>
<text transform="translate(1825.5 2163.58) scale(1.1716 0.801)" font-size="50" text-anchor="middle" font-weight="bold">-</text>
<text transform="translate(1986.9 2166.85) scale(1.0807 0.9523)" font-size="50" text-anchor="middle" font-weight="bold">+</text>
<text transform="translate(1664.9 2233.05) scale(1.0807 0.9523)" font-size="50" text-anchor="middle" font-weight="bold">+</text>
<text transform="translate(1825.5 2229.78) scale(1.1716 0.801)" font-size="50" text-anchor="middle" font-weight="bold">-</text>
<text transform="translate(1986.2 2229.78) scale(1.1716 0.801)" font-size="50" text-anchor="middle" font-weight="bold">-</text>
<text transform="translate(1664.9 2299.65) scale(1.0807 0.9523)" font-size="50" text-anchor="middle" font-weight="bold">+</text>
<text transform="translate(1826.2 2299.65) scale(1.0807 0.9523)" font-size="50" text-anchor="middle" font-weight="bold">+</text>
<text transform="translate(1986.2 2296.38) scale(1.1716 0.801)" font-size="50" text-anchor="middle" font-weight="bold">-</text>
<text transform="translate(1664.9 2365.55) scale(1.0807 0.9523)" font-size="50" text-anchor="middle" font-weight="bold">+</text>
<text transform="translate(1825.5 2362.28) scale(1.1716 0.801)" font-size="50" text-anchor="middle" font-weight="bold">-</text>
<text transform="translate(1986.9 2365.55) scale(1.0807 0.9523)" font-size="50" text-anchor="middle" font-weight="bold">+</text>
<text transform="translate(1664.9 2432.25) scale(1.0807 0.9523)" font-size="50" text-anchor="middle" font-weight="bold">+</text>
<text transform="translate(1826.2 2432.25) scale(1.0807 0.9523)" font-size="50" text-anchor="middle" font-weight="bold">+</text>
<text transform="translate(1986.9 2432.25) scale(1.0807 0.9523)" font-size="50" text-anchor="middle" font-weight="bold">+</text>
<rect x="1585" y="2476.4" width="1.2" height="149.6" fill="#d3d3d3"/>
<rect x="2067.8" y="2476.4" width="1.2" height="149.6" fill="#d3d3d3"/>
<rect x="1585.6" y="2548.9" width="482.8" height="1.2" fill="#d3d3d3"/>
<rect x="1502" y="2511" width="65" height="6" fill="#008000"/>
<rect x="1520" y="2500" width="29" height="29" fill="#008000" rx="3"/>
<rect x="1502" y="2594" width="65" height="6" fill="#ff0000"/>
<rect x="1520" y="2583" width="29" height="28" fill="#ff0000" rx="3"/>
<text transform="translate(1667.3 2533.47) scale(1.16 0.9)" font-size="50" text-anchor="middle" font-weight="bold">-</text>
<text transform="translate(1829.5 2537.19) scale(1.07 1.07)" font-size="50" text-anchor="middle" font-weight="bold">+</text>
<text transform="translate(1989.4 2533.47) scale(1.16 0.9)" font-size="50" text-anchor="middle" font-weight="bold">-</text>
<text transform="translate(1667.3 2606.97) scale(1.16 0.9)" font-size="50" text-anchor="middle" font-weight="bold">-</text>
<text transform="translate(1829.5 2610.69) scale(1.07 1.07)" font-size="50" text-anchor="middle" font-weight="bold">+</text>
<text transform="translate(1990.1 2610.69) scale(1.07 1.07)" font-size="50" text-anchor="middle" font-weight="bold">+</text>
</svg>
</body>
</html>
